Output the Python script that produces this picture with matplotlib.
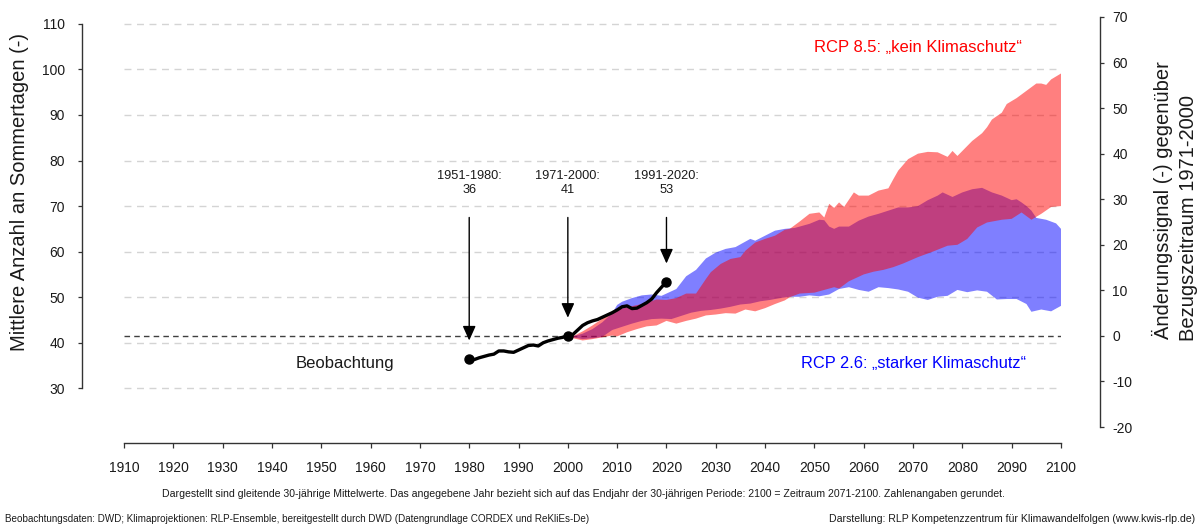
import numpy as np
import matplotlib
matplotlib.use("Agg")
import matplotlib.pyplot as plt
from matplotlib.patches import ArrowStyle

plt.rcParams['font.family'] = ['Liberation Sans', 'DejaVu Sans']
plt.rcParams['axes.unicode_minus'] = False

# ---------------- data ----------------
ref_value = 41.5  # 1971-2000 reference

obs_years = list(range(1980, 2021))
obs_values = [36.5, 36.3, 36.7, 37.0, 37.3, 37.5, 38.2, 38.2, 38.0, 37.9,
              38.4, 38.9, 39.4, 39.5, 39.3, 40.0, 40.4, 40.7, 41.0, 41.2,
              41.5, 41.8, 42.8, 43.8, 44.4, 44.8, 45.1, 45.6, 46.1, 46.6,
              47.2, 47.9, 48.1, 47.5, 47.6, 48.2, 48.8, 49.6, 51.0, 52.2, 53.4]

period_years = [1980, 2000, 2020]
period_labels = ['1951-1980:\n36', '1971-2000:\n41', '1991-2020:\n53']

rcp85_upper_years = [2001, 2003, 2005, 2008, 2010, 2012, 2015, 2018, 2020, 2022,
                     2024, 2026, 2028, 2029, 2031, 2033, 2035, 2036, 2038, 2040,
                     2042, 2044, 2045, 2047, 2049, 2051, 2052, 2053, 2054, 2055,
                     2056, 2058, 2059, 2061, 2063, 2065, 2066, 2067, 2069, 2071,
                     2073, 2075, 2077, 2078, 2079, 2080, 2082, 2084, 2085, 2086,
                     2088, 2089, 2091, 2093, 2095, 2096, 2097, 2098, 2100]
rcp85_upper = [41.4, 42.5, 43.8, 46.0, 47.2, 47.8, 48.5, 49.5, 49.4, 49.8,
               50.8, 50.8, 54.0, 55.5, 57.3, 58.4, 58.8, 60.2, 62.0, 62.8,
               63.5, 64.8, 65.0, 66.6, 68.3, 68.6, 67.5, 70.5, 69.6, 70.8,
               69.8, 73.0, 72.3, 72.3, 73.4, 73.9, 75.9, 77.8, 80.3, 81.5,
               81.9, 81.8, 80.8, 82.1, 81.0, 82.1, 84.3, 86.0, 87.3, 89.0,
               90.5, 92.4, 93.7, 95.3, 96.9, 96.9, 96.6, 97.8, 99.1]

rcp85_lower_years = [2001, 2003, 2005, 2007, 2009, 2010, 2012, 2014, 2016, 2018,
                     2020, 2022, 2024, 2026, 2028, 2030, 2032, 2034, 2036, 2038,
                     2040, 2042, 2044, 2045, 2047, 2050, 2052, 2054, 2055, 2057,
                     2060, 2062, 2064, 2066, 2068, 2071, 2074, 2077, 2079, 2081,
                     2083, 2085, 2088, 2090, 2092, 2094, 2096, 2098, 2100]
rcp85_lower = [41.0, 40.5, 40.8, 41.2, 41.6, 41.4, 42.3, 43.0, 43.6, 43.8,
               44.8, 44.2, 44.8, 45.3, 46.0, 46.2, 46.5, 46.4, 47.3, 46.9,
               47.6, 48.5, 49.3, 50.0, 50.8, 51.0, 51.6, 52.2, 51.9, 53.5,
               55.0, 55.6, 56.0, 56.6, 57.4, 58.8, 60.0, 61.3, 61.5, 62.8,
               65.3, 66.4, 67.0, 67.2, 68.6, 67.0, 68.3, 69.8, 70.0]

rcp26_upper_years = [2001, 2003, 2005, 2007, 2009, 2010, 2011, 2013, 2015, 2017,
                     2019, 2020, 2022, 2024, 2026, 2028, 2030, 2032, 2034, 2036,
                     2037, 2038, 2040, 2042, 2044, 2046, 2047, 2049, 2051, 2052,
                     2053, 2054, 2055, 2057, 2059, 2061, 2063, 2065, 2067, 2069,
                     2071, 2073, 2075, 2076, 2078, 2080, 2082, 2084, 2086, 2088,
                     2090, 2091, 2092, 2093, 2094, 2095, 2096, 2097, 2099, 2100]
rcp26_upper = [41.4, 42.0, 43.0, 44.5, 46.5, 48.3, 49.0, 49.8, 50.4, 50.6,
               50.3, 50.8, 51.8, 54.6, 56.0, 58.5, 59.8, 60.6, 61.0, 62.2,
               62.8, 62.4, 63.5, 64.6, 65.0, 65.2, 65.5, 66.1, 67.0, 66.9,
               65.5, 65.0, 65.5, 65.5, 66.8, 67.7, 68.3, 69.0, 69.7, 69.7,
               70.0, 71.3, 72.3, 73.0, 72.0, 73.0, 73.7, 74.0, 73.0, 72.3,
               71.3, 71.5, 70.8, 70.0, 69.0, 67.4, 67.2, 67.0, 66.2, 65.0]

rcp26_lower_years = [2001, 2003, 2005, 2007, 2009, 2011, 2013, 2015, 2017, 2019,
                     2021, 2023, 2025, 2027, 2029, 2031, 2033, 2035, 2037, 2039,
                     2041, 2043, 2045, 2047, 2049, 2051, 2053, 2055, 2057, 2059,
                     2061, 2063, 2065, 2067, 2069, 2071, 2073, 2075, 2077, 2079,
                     2081, 2083, 2085, 2087, 2089, 2091, 2093, 2094, 2096, 2098, 2100]
rcp26_lower = [41.2, 40.8, 41.0, 41.3, 42.8, 43.5, 44.2, 44.8, 45.2, 45.3,
               45.2, 45.9, 46.6, 47.0, 47.2, 47.5, 47.9, 48.4, 48.6, 49.1,
               49.4, 49.8, 50.1, 50.1, 50.4, 50.2, 50.6, 51.8, 52.2, 51.6,
               51.2, 52.2, 52.0, 51.7, 51.2, 49.9, 49.4, 50.1, 50.3, 51.6,
               51.1, 51.5, 51.2, 49.5, 49.6, 49.6, 48.5, 46.8, 47.3, 46.9, 48.1]

x_ticks = list(range(1910, 2101, 10))
left_ticks = list(range(30, 111, 10))
right_ticks = list(range(-20, 71, 10))

ylabel_left = 'Mittlere Anzahl an Sommertagen (-)'
ylabel_right_1 = 'Änderungssignal (-) gegenüber'
ylabel_right_2 = 'Bezugszeitraum 1971-2000'
caption = ('Dargestellt sind gleitende 30-jährige Mittelwerte. Das angegebene Jahr bezieht sich auf das '
           'Endjahr der 30-jährigen Periode: 2100 = Zeitraum 2071-2100. Zahlenangaben gerundet.')
source_left = ('Beobachtungsdaten: DWD; Klimaprojektionen: RLP-Ensemble, bereitgestellt durch DWD '
               '(Datengrundlage CORDEX und ReKliEs-De)')
source_right = 'Darstellung: RLP Kompetenzzentrum für Klimawandelfolgen (www.kwis-rlp.de)'

# ---------------- figure ----------------
W, H = 1200, 527
fig = plt.figure(figsize=(W / 100, H / 100), dpi=100)
px = 72 / 100  # points per pixel

ax = fig.add_axes([124 / W, 1 - 443 / H, (1061 - 124) / W, (443 - 17) / H])
ylo, yhi = 18.0, 111.5
ax.set_xlim(1910, 2100)
ax.set_ylim(ylo, yhi)

spine_col = '#333333'
txt_col = '#1a1a1a'
for s in ['top', 'right']:
    ax.spines[s].set_visible(False)
ax.spines['left'].set_position(('outward', 42 * px))
ax.spines['left'].set_bounds(30, 110)
ax.spines['bottom'].set_bounds(1910, 2100)
for s in ['left', 'bottom']:
    ax.spines[s].set_color(spine_col)
    ax.spines[s].set_linewidth(1.0)

ax.set_xticks(x_ticks)
ax.set_yticks(left_ticks)
ax.tick_params(axis='y', direction='out', length=4 * px, width=0.9, pad=9.5,
               labelsize=10, color=spine_col, labelcolor=txt_col)
ax.tick_params(axis='x', direction='out', length=4.5 * px, width=0.9, pad=10,
               labelsize=10, color=spine_col, labelcolor=txt_col)

ax.set_axisbelow(True)
ax.yaxis.grid(True, color='#d4d4d4', linestyle=(0, (5, 4)), linewidth=1.0)

# reference dashed line
ax.axhline(ref_value, color='#404040', linestyle=(0, (4, 3)), linewidth=1.0, zorder=2)

# bands
ax.fill(np.r_[rcp26_upper_years, rcp26_lower_years[::-1]],
        np.r_[rcp26_upper, rcp26_lower[::-1]],
        color=(0, 0, 1), alpha=0.5, linewidth=0, zorder=3)
ax.fill(np.r_[rcp85_upper_years, rcp85_lower_years[::-1]],
        np.r_[rcp85_upper, rcp85_lower[::-1]],
        color=(1, 0, 0), alpha=0.5, linewidth=0, zorder=4)

# observations
ax.plot(obs_years, obs_values, color='black', linewidth=2.4, zorder=6,
        solid_joinstyle='round', solid_capstyle='round')
pt_vals = [obs_values[obs_years.index(y)] for y in period_years]
ax.plot(period_years, pt_vals, 'o', color='black', markersize=6.5, zorder=7)

# arrows + labels
astyle = ArrowStyle('-|>', head_length=0.4, head_width=0.18)
for yr, v, lab in zip(period_years, pt_vals, period_labels):
    ax.annotate('', xy=(yr, v + 4.0), xytext=(yr, 67.5),
                arrowprops=dict(arrowstyle=astyle, color='black', lw=1.0,
                                mutation_scale=22, shrinkA=0, shrinkB=0),
                zorder=8)
    ax.text(yr, 75.1, lab, ha='center', va='center', fontsize=9.2,
            linespacing=1.25, color=txt_col)

ax.text(1954.8, 35.5, 'Beobachtung', ha='center', va='center', fontsize=12, color=txt_col)
ax.text(2071.0, 104.8, 'RCP 8.5: \u201ekein Klimaschutz\u201c', ha='center', va='center',
        fontsize=12, color='#ff0000')
ax.text(2070.0, 35.5, 'RCP 2.6: \u201estarker Klimaschutz\u201c', ha='center', va='center',
        fontsize=11.8, color='#0000ff')

# right axis
ax2 = ax.twinx()
ax2.set_ylim(ylo - ref_value, yhi - ref_value)
for s in ['top', 'left', 'bottom']:
    ax2.spines[s].set_visible(False)
ax2.spines['right'].set_position(('outward', 39 * px))
ax2.spines['right'].set_bounds(-20, 70)
ax2.spines['right'].set_color(spine_col)
ax2.spines['right'].set_linewidth(1.0)
ax2.set_yticks(right_ticks)
ax2.tick_params(axis='y', direction='out', length=4 * px, width=0.9, pad=6,
                labelsize=10, color=spine_col, labelcolor=txt_col)

# axis titles
fig.text(20 / W, 1 - 192 / H, ylabel_left, rotation=90, ha='center', va='center',
         fontsize=14.5, color=txt_col)
fig.text(1162 / W, 1 - 200 / H, ylabel_right_1, rotation=90, ha='center', va='center',
         fontsize=14.5, color=txt_col)
fig.text(1188 / W, 1 - 218 / H, ylabel_right_2, rotation=90, ha='center', va='center',
         fontsize=14.5, color=txt_col)

# footer
fig.text(583 / W, 1 - 494 / H, caption, ha='center', va='center', fontsize=7.6, color=txt_col)
fig.text(5 / W, 1 - 519 / H, source_left, ha='left', va='center', fontsize=7.1, color=txt_col)
fig.text(1195 / W, 1 - 519 / H, source_right, ha='right', va='center', fontsize=7.6, color=txt_col)

fig.savefig('out.png', dpi=100, facecolor='white')
